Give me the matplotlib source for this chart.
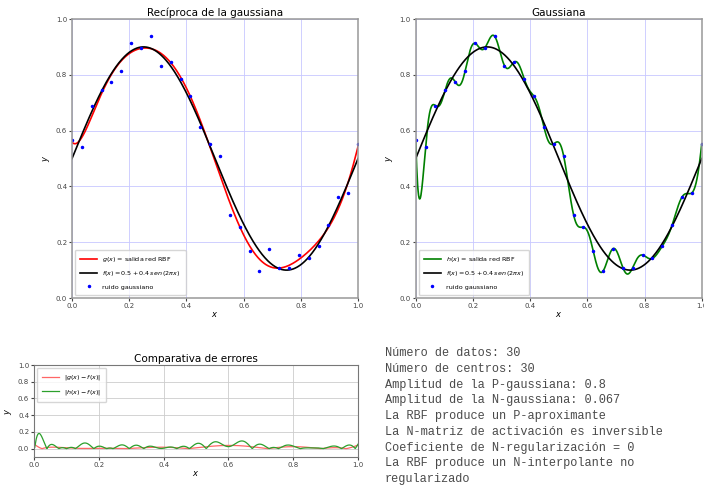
import numpy as np
import matplotlib
matplotlib.use("Agg")
import matplotlib.pyplot as plt

# datos con ruido gaussiano, x equiespaciados en [0, 1]
x_datos = np.linspace(0.0, 1.0, 30)
y_ruido = [0.566, 0.541, 0.690, 0.747, 0.775, 0.812, 0.913, 0.896, 0.938, 0.833,
           0.846, 0.786, 0.723, 0.613, 0.553, 0.509, 0.299, 0.254, 0.168, 0.097,
           0.177, 0.109, 0.109, 0.154, 0.142, 0.186, 0.262, 0.362, 0.377, 0.553]

sigma_p = 0.8
sigma_n = 0.067
reg_n = 0.0

info = [
    "Número de datos: 30",
    "Número de centros: 30",
    "Amplitud de la P-gaussiana: 0.8",
    "Amplitud de la N-gaussiana: 0.067",
    "La RBF produce un P-aproximante",
    "La N-matriz de activación es inversible",
    "Coeficiente de N-regularización = 0",
    "La RBF produce un N-interpolante no",
    "regularizado",
]


def activacion(x, centros, sigma):
    return np.exp(-(x[:, None] - centros[None, :]) ** 2 / (2 * sigma ** 2))


def red_rbf(xd, yd, sigma, reg=0.0):
    phi = activacion(xd, xd, sigma)
    if reg > 0:
        phi = phi + reg * np.eye(len(xd))
    w = np.linalg.pinv(phi) @ np.asarray(yd)
    return lambda x: activacion(x, xd, sigma) @ w


xs = np.linspace(0.0, 1.0, 600)
f = 0.5 + 0.4 * np.sin(2 * np.pi * xs)
g = red_rbf(x_datos, y_ruido, sigma_p)(xs)
h = red_rbf(x_datos, y_ruido, sigma_n, reg_n)(xs)

fig = plt.figure(figsize=(7.04, 4.9), dpi=100)
ax1 = fig.add_axes([0.1023, 0.3918, 0.4063, 0.5694])
ax2 = fig.add_axes([0.5905, 0.3918, 0.4063, 0.5694])
ax3 = fig.add_axes([0.0483, 0.0673, 0.4602, 0.1878])

tick_fs = 5
leg_fs = 4.6

for ax, curva, color, nombre, titulo in [
    (ax1, g, "r", "$g(x)$", "Recíproca de la gaussiana"),
    (ax2, h, "g", "$h(x)$", "Gaussiana"),
]:
    ax.plot(xs, curva, color=color, lw=1.2, label=nombre + " = salida red RBF")
    ax.plot(xs, f, color="k", lw=1.2, label=r"$f(x) = 0.5 + 0.4\,sen\,(2\pi x)$")
    ax.plot(x_datos, y_ruido, "b.", ms=3, label="ruido gaussiano")
    ax.set_xlim(0, 1)
    ax.set_ylim(0, 1)
    ax.grid(True, color="#c8c8ff", lw=0.6)
    ax.set_title(titulo, fontsize=7.5, pad=2)
    ax.set_xlabel("$x$", fontsize=6, labelpad=1)
    ax.set_ylabel("$y$", fontsize=6, labelpad=3)
    ax.tick_params(labelsize=tick_fs, length=2, pad=1.5, colors="#444444")
    for s in ax.spines.values():
        s.set_color("#999999")
        s.set_linewidth(1.1)
    ax.legend(loc="lower left", fontsize=leg_fs, borderpad=0.8, labelspacing=0.9,
              handlelength=2.6)

ax3.plot(xs, np.abs(g - f), color="#ff6666", lw=0.9, label="$|g(x) - f(x)|$")
ax3.plot(xs, np.abs(h - f), color="#2ca02c", lw=0.9, label="$|h(x) - f(x)|$")
ax3.set_xlim(0, 1)
ax3.set_ylim(-0.1, 1.0)
ax3.set_yticks([0.0, 0.2, 0.4, 0.6, 0.8, 1.0])
ax3.grid(True, color="#cccccc", lw=0.6)
ax3.set_title("Comparativa de errores", fontsize=7.5, pad=2)
ax3.set_xlabel("$x$", fontsize=6, labelpad=1)
ax3.set_ylabel("$y$", fontsize=6, labelpad=3)
ax3.tick_params(labelsize=tick_fs, length=2, pad=1.5, colors="#444444")
for s in ax3.spines.values():
    s.set_color("#777777")
ax3.legend(loc="upper left", fontsize=leg_fs, borderpad=0.8, labelspacing=0.9,
           handlelength=2.6)

fig.text(385 / 704, 1 - 347 / 490, "\n".join(info), family="Liberation Mono",
         fontsize=8.6, color="#4a4a4a", va="top", ha="left", linespacing=1.42)

fig.savefig("out.png", dpi=100)
